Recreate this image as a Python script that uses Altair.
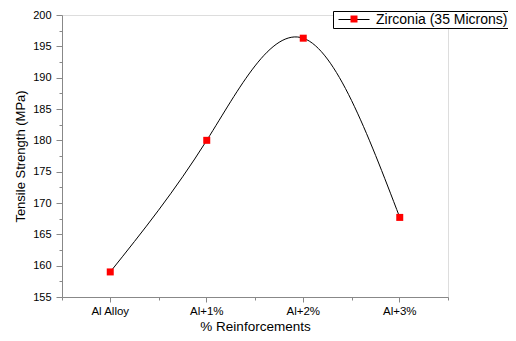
import altair as alt
import pandas as pd

categories = ["Al Alloy", "Al+1%", "Al+2%", "Al+3%"]
strength = [159.0, 180.0, 196.3, 167.7]
series_name = "Zirconia (35 Microns)"
y_major = [155, 160, 165, 170, 175, 180, 185, 190, 195, 200]
y_minor = [157.5, 162.5, 167.5, 172.5, 177.5, 182.5, 187.5, 192.5, 197.5]

df = pd.DataFrame({
    "cat": categories,
    "val": strength,
    "series": [series_name] * len(categories),
    "marker": ["m"] * len(categories),
})

FONT = "Liberation Sans"

x_scale = alt.Scale(type="band", domain=categories, paddingInner=0, paddingOuter=0)
y_scale = alt.Scale(domain=[155, 200], zero=False, nice=False)

LX = 271   # legend box left, relative to plot origin
LY = -4

line = alt.Chart(df).mark_line(interpolate="natural", strokeWidth=1).encode(
    x=alt.X("cat:N", sort=categories, scale=x_scale,
            axis=alt.Axis(title="% Reinforcements", labelAngle=0, tickSize=5,
                          labelFontSize=11.5, titleFontSize=13.5, labelPadding=3,
                          titleBaseline="alphabetic", titleY=33,
                          titleFontWeight="normal")),
    y=alt.Y("val:Q", scale=y_scale,
            axis=alt.Axis(title="Tensile Strength (MPa)", values=y_major, tickSize=6,
                          labelFontSize=11, titleFontSize=13, labelPadding=5,
                          titlePadding=5, titleFontWeight="normal", grid=False)),
    color=alt.Color("series:N", scale=alt.Scale(range=["black"]),
                    legend=alt.Legend(title=None, orient="none", legendX=LX, legendY=LY,
                                      symbolType="M-0.4286,0H4", symbolSize=196,
                                      symbolStrokeWidth=1, labelFontSize=14,
                                      labelFont=FONT, labelColor="black", labelOffset=27,
                                      padding=1, strokeColor="black", fillColor="white")),
)

points = alt.Chart(df).mark_square(size=49, opacity=1).encode(
    x=alt.X("cat:N", sort=categories, scale=x_scale,
            axis=alt.Axis(title=None, labels=False, domain=False, tickSize=3,
                          tickBand="extent", orient="bottom")),
    y=alt.Y("val:Q", scale=y_scale,
            axis=alt.Axis(title=None, labels=False, domain=False, tickSize=3,
                          values=y_minor, orient="left", grid=False)),
    fill=alt.Fill("marker:N", scale=alt.Scale(range=["#ff0000"]),
                  legend=alt.Legend(title=None, orient="none", legendX=LX + 16.5,
                                    legendY=LY + 3.5,
                                    symbolType="square", symbolSize=49,
                                    symbolStrokeWidth=0, symbolOpacity=1,
                                    labelExpr="''", labelFontSize=1,
                                    labelOffset=0, padding=1)),
)

chart = alt.layer(line, points).resolve_axis(x="independent", y="independent").properties(
    width=386, height=282,
    autosize=alt.AutoSizeParams(type="none"),
    padding={"left": 54, "top": 7, "right": 60, "bottom": 36},
).configure_view(stroke=None).configure_axis(
    labelFont=FONT, titleFont=FONT, labelColor="black", titleColor="black",
    domainColor="black", tickColor="black", domainWidth=1, tickWidth=1,
).configure(background="white")

chart.save("out.html", embed_options={"renderer": "svg", "actions": False})
